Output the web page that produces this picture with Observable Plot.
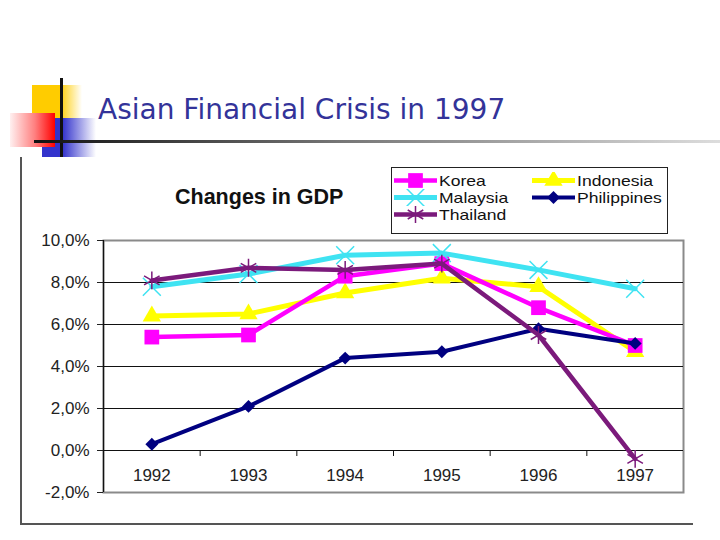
<!DOCTYPE html>
<html><head><meta charset="utf-8">
<script src="https://cdn.jsdelivr.net/npm/d3@7"></script>
<script src="https://cdn.jsdelivr.net/npm/@observablehq/plot@0.6"></script>
<style>
body{margin:0;background:#fff;width:720px;height:540px;position:relative;overflow:hidden;font-family:"Liberation Sans",Arial,sans-serif}
.abs{position:absolute}
.leg{position:absolute;height:17px;display:flex;align-items:center;color:#111;white-space:nowrap}
.leg span{margin-left:2px;font-size:15px;line-height:16px;display:inline-block;transform:scaleX(1.17);transform-origin:left center}
</style></head><body>
<div class="abs" style="left:32px;top:85px;width:50px;height:33px;background:linear-gradient(to right,#FFCC00 0%,#FFCC00 55%,rgba(255,204,0,0) 100%)"></div>
<div class="abs" style="left:42px;top:118px;width:54px;height:39px;background:linear-gradient(to right,#3333CC 0%,#3333CC 38%,rgba(51,51,204,0) 100%)"></div>
<div class="abs" style="left:10px;top:113px;width:45px;height:34px;background:linear-gradient(to right,#fff0f0 0%,#ff8080 55%,#ff0000 100%)"></div>
<div class="abs" style="left:60px;top:78px;width:3px;height:79px;background:#111"></div>
<div class="abs" style="left:34px;top:140px;width:686px;height:3px;background:linear-gradient(to right,#111 0%,#777 45%,#ddd 100%)"></div>
<div class="abs" style="left:98px;top:96px;font-family:'DejaVu Sans',sans-serif;font-size:28px;line-height:1;color:#333399;white-space:nowrap">Asian Financial Crisis in 1997</div>
<div class="abs" style="left:20px;top:157px;width:1.5px;height:367px;background:#555"></div>
<div class="abs" style="left:20px;top:523px;width:673px;height:1.5px;background:#555"></div>
<div id="chart" class="abs" style="left:0;top:0"></div>
<div class="abs" style="left:175px;top:187px;font-size:21.5px;font-weight:bold;line-height:1;color:#111;white-space:nowrap">Changes in GDP</div>
<div class="abs" style="left:391px;top:167px;width:275px;height:65px;border:1px solid #222;background:#fff"></div>
<div id="legend"></div>
<script>
const years = [1992, 1993, 1994, 1995, 1996, 1997];
const series = ["Korea", "Indonesia", "Malaysia", "Philippines", "Thailand"];
const korea = [5.4, 5.5, 8.3, 8.9, 6.8, 5.0];
const indonesia = [6.4, 6.5, 7.5, 8.2, 7.8, 4.7];
const malaysia = [7.8, 8.4, 9.3, 9.4, 8.6, 7.7];
const philippines = [0.3, 2.1, 4.4, 4.7, 5.8, 5.1];
const thailand = [8.1, 8.7, 8.6, 8.9, 5.5, -0.4];
const yTicks = [-2, 0, 2, 4, 6, 8, 10];

const valuesBy = {Korea: korea, Indonesia: indonesia, Malaysia: malaysia, Philippines: philippines, Thailand: thailand};
const styleBy = {
  Korea: {color: "#FF00FF", symbol: "square", r: 8.3, filled: true, w: 4.5},
  Indonesia: {color: "#FFFF00", symbol: "triangle", r: 6.8, filled: true, w: 5},
  Malaysia: {color: "#3FE3F2", symbol: "times", r: 8.2, filled: false, w: 5},
  Philippines: {color: "#000080", symbol: "diamond2", r: 5.8, filled: true, w: 4},
  Thailand: {color: "#7B1A7B", symbol: "asterisk", r: 8.5, filled: false, w: 4.5}
};
const drawOrder = ["Indonesia", "Korea", "Malaysia", "Philippines", "Thailand"];

const rows = series.flatMap(s => years.map((y, i) => ({country: s, year: y, value: valuesBy[s][i]})));
const edges = years.slice(0, -1).map(y => y + 0.5);
const fmt = d => d.toFixed(1).replace(".", ",") + "%";

const seriesMarks = drawOrder.flatMap(s => {
  const st = styleBy[s];
  const data = rows.filter(r => r.country === s);
  const dotOpts = {x: "year", y: "value", symbol: st.symbol, r: st.r};
  if (st.filled) { dotOpts.fill = st.color; dotOpts.stroke = "none"; }
  else { dotOpts.stroke = st.color; dotOpts.strokeWidth = 1.5; dotOpts.fill = "none"; }
  return [
    Plot.line(data, {x: "year", y: "value", stroke: st.color, strokeWidth: st.w, strokeLinejoin: "round"}),
    Plot.dot(data, dotOpts)
  ];
});

const chart = Plot.plot({
  width: 720, height: 540,
  marginLeft: 103, marginRight: 37, marginTop: 240, marginBottom: 48,
  x: {domain: [years[0] - 0.5, years[years.length - 1] + 0.5], axis: null, label: null},
  y: {domain: [yTicks[0], yTicks[yTicks.length - 1]], axis: null, label: null},
  style: {fontFamily: "Liberation Sans, Arial, sans-serif", background: "transparent", overflow: "visible"},
  marks: [
    Plot.frame({stroke: "#8a8a8a", strokeWidth: 2}),
    Plot.ruleY(yTicks.slice(1, -1), {stroke: "#111", strokeWidth: 1}),
    Plot.ruleX([years[0] - 0.5], {stroke: "#111", strokeWidth: 1.2}),
    Plot.ruleX(edges, {y1: 0, y2: 0, insetBottom: -6, stroke: "#111"}),
    Plot.axisY({ticks: yTicks, tickSize: 6, tickPadding: 8, tickFormat: fmt, fontSize: 17, color: "#222", label: null}),
    Plot.axisX({ticks: years, tickSize: 0, tickPadding: 3, dy: -27, tickFormat: d => String(d), fontSize: 17, color: "#222", label: null}),
    ...seriesMarks
  ]
});
document.getElementById("chart").appendChild(chart);

// legend
const legendPos = {
  Korea: [394, 172], Indonesia: [532, 172],
  Malaysia: [394, 189], Philippines: [532, 189],
  Thailand: [394, 206]
};
const legend = document.getElementById("legend");
series.forEach(s => {
  const st = styleBy[s];
  const [lx, ly] = legendPos[s];
  const div = document.createElement("div");
  div.className = "leg";
  div.style.left = lx + "px";
  div.style.top = ly + "px";
  const svg = d3.create("svg").attr("width", 43).attr("height", 17);
  svg.append("line").attr("x1", 0).attr("x2", 43).attr("y1", 8.5).attr("y2", 8.5)
    .attr("stroke", st.color).attr("stroke-width", st.w);
  const symMap = {square: d3.symbolSquare, triangle: d3.symbolTriangle, times: d3.symbolTimes, diamond2: d3.symbolDiamond2, asterisk: d3.symbolAsterisk};
  const p = svg.append("path").attr("transform", "translate(21.5,8.5)")
    .attr("d", d3.symbol(symMap[st.symbol], st.r * st.r * Math.PI)());
  if (st.filled) p.attr("fill", st.color); else p.attr("fill", "none").attr("stroke", st.color).attr("stroke-width", 1.5);
  div.appendChild(svg.node());
  const sp = document.createElement("span");
  sp.textContent = s;
  div.appendChild(sp);
  legend.appendChild(div);
});
</script>
</body></html>
